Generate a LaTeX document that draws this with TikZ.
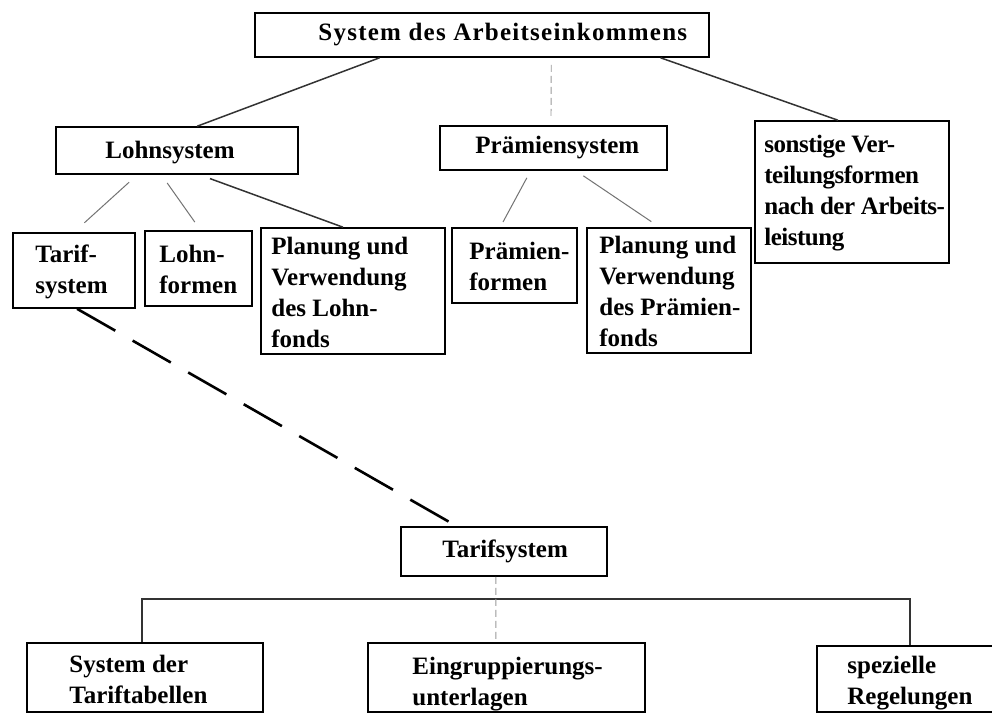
\documentclass[tikz,border=0pt]{standalone}
\usepackage{fontspec}
\setmainfont{Liberation Serif}
\usetikzlibrary{calc}
\tikzset{
  box/.style={draw=black, line width=1.6pt, rectangle, inner sep=0pt},
  txt/.style={anchor=west, align=left, inner sep=0pt,
    font=\bfseries\fontsize{25}{31}\selectfont},
  conn/.style={draw=black!80, line width=1.5pt},
  thinconn/.style={draw=black!55, line width=1pt},
  faint/.style={draw=black!40, line width=0.9pt, dash pattern=on 7pt off 4pt},
  bigdash/.style={draw=black, line width=2.6pt, dash pattern=on 44pt off 20pt}
}
\begin{document}
\begin{tikzpicture}[x=1pt,y=-1pt]
\clip (0,0) rectangle (992,713);
\fill[white] (0,0) rectangle (992,713);

% boxes
\node[box, minimum width=454pt, minimum height=44pt] (top) at (482,35) {};
\node[box, minimum width=242pt, minimum height=47pt] (lohn) at (177,150.5) {};
\node[box, minimum width=227pt, minimum height=44pt] (praem) at (553.5,148) {};
\node[box, minimum width=194pt, minimum height=142pt] (sonst) at (852,192) {};
\node[box, minimum width=122pt, minimum height=75pt] (tarifA) at (74,270.5) {};
\node[box, minimum width=107pt, minimum height=75pt] (lohnf) at (198.5,268.5) {};
\node[box, minimum width=184pt, minimum height=126pt] (planL) at (353,291) {};
\node[box, minimum width=125pt, minimum height=75pt] (praemf) at (514.5,265.5) {};
\node[box, minimum width=164pt, minimum height=125pt] (planP) at (669,290.5) {};
\node[box, minimum width=206pt, minimum height=49pt] (tarifB) at (504,551.5) {};
\node[box, minimum width=236pt, minimum height=69pt] (sdt) at (145,677.5) {};
\node[box, minimum width=277pt, minimum height=69pt] (eing) at (506.5,677.5) {};
\node[box, minimum width=193pt, minimum height=66pt] (spez) at (913.5,679) {};

% texts
\node[txt] (top-t) at ([xshift=64pt]top.west) {\addfontfeature{LetterSpace=5}System des Arbeitseinkommens};
\node[txt] (lohn-t) at ([xshift=50pt,yshift=-2pt]lohn.west) {Lohnsystem};
\node[txt] (praem-t) at ([xshift=36pt]praem.west) {Prämiensystem};
\node[txt, font=\bfseries\fontsize{25}{31}\selectfont\addfontfeature{LetterSpace=-2}] (sonst-t) at ([xshift=10pt,yshift=-1pt]sonst.west) {sonstige Ver-\\teilungsformen\\nach der Arbeits-\\leistung};
\node[txt] (tarifA-t) at ([xshift=23pt,yshift=-1pt]tarifA.west) {Tarif-\\system};
\node[txt] (lohnf-t) at ([xshift=15pt,yshift=-1pt]lohnf.west) {Lohn-\\formen};
\node[txt] (planL-t) at ([xshift=11pt,yshift=-1pt]planL.west) {Planung und\\Verwendung\\des Lohn-\\fonds};
\node[txt] (praemf-t) at ([xshift=18pt,yshift=-1pt]praemf.west) {Prämien-\\formen};
\node[txt] (planP-t) at ([xshift=13pt,yshift=-1pt]planP.west) {Planung und\\Verwendung\\des Prämien-\\fonds};
\node[txt] (tarifB-t) at ([xshift=42pt]tarifB.west) {Tarifsystem};
\node[txt] (sdt-t) at ([xshift=43pt,yshift=-2pt]sdt.west) {System der\\Tariftabellen};
\node[txt] (eing-t) at ([xshift=45pt,yshift=-7pt]eing.west) {Eingruppierungs-\\unterlagen};
\node[txt] (spez-t) at ([xshift=31pt,yshift=-4pt]spez.west) {spezielle\\Regelungen};

% connectors level 0 -> 1
\draw[conn] ($(top.south west)!0.275!(top.south east)$) -- ($(lohn.north west)!0.583!(lohn.north east)$);
\draw[faint, shorten <=7pt, shorten >=8pt] ($(top.south west)!0.652!(top.south east)$) -- ($(praem.north west)!0.489!(praem.north east)$);
\draw[conn] ($(top.south west)!0.892!(top.south east)$) -- ($(sonst.north west)!0.428!(sonst.north east)$);

% connectors level 1 -> 2
\draw[thinconn, shorten <=11pt, shorten >=14pt] ($(lohn.south west)!0.337!(lohn.south east)$) -- ($(tarifA.north west)!0.50!(tarifA.north east)$);
\draw[thinconn, shorten <=10pt, shorten >=10pt] ($(lohn.south west)!0.436!(lohn.south east)$) -- ($(lohnf.north west)!0.519!(lohnf.north east)$);
\draw[conn, shorten <=11pt] ($(lohn.south west)!0.593!(lohn.south east)$) -- ($(planL.north west)!0.446!(planL.north east)$);
\draw[thinconn, shorten <=8pt, shorten >=6pt] ($(praem.south west)!0.40!(praem.south east)$) -- ($(praemf.north west)!0.387!(praemf.north east)$);
\draw[thinconn, shorten <=9pt, shorten >=10pt] ($(praem.south west)!0.598!(praem.south east)$) -- ($(planP.north west)!0.443!(planP.north east)$);

% link to lower tree
\draw[bigdash] ($(tarifA.south west)!0.525!(tarifA.south east)$) -- ($(tarifB.north west)!0.272!(tarifB.north east)$);

% lower tree connectors
\coordinate (bus) at (496,599);
\draw[conn, line width=1.3pt] ($(sdt.north west)!0.487!(sdt.north east)$) |- (bus) -| ($(spez.north west)!0.482!(spez.north east)$);
\draw[faint] ($(tarifB.south west)!0.461!(tarifB.south east)$) -- ($(eing.north west)!0.462!(eing.north east)$);
\end{tikzpicture}
\end{document}
